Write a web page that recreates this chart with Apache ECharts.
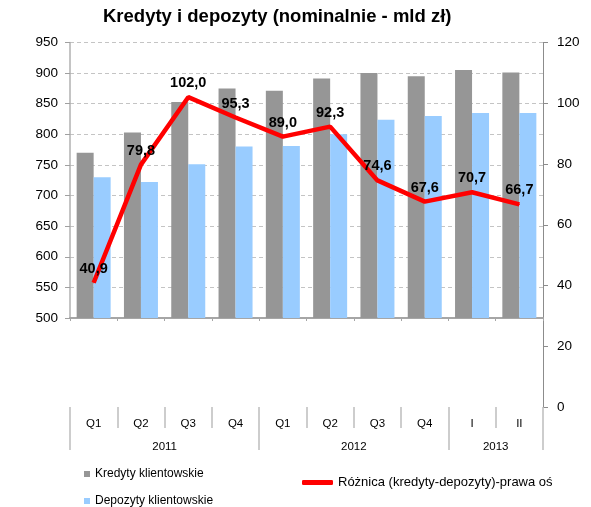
<!DOCTYPE html>
<html>
<head>
<meta charset="utf-8">
<script src="https://cdn.jsdelivr.net/npm/echarts@6/dist/echarts.min.js"></script>
<style>
html,body{margin:0;padding:0;background:#fff;}
#main{width:591px;height:507px;}
</style>
</head>
<body>
<div id="main"></div>
<script>
/*kategorie i dane*/
var quarters=['Q1','Q2','Q3','Q4','Q1','Q2','Q3','Q4','I','II'];
var years=['2011','2012','2013'];
var yearSpans=[4,4,2];
var kredyty=[770,803,853,875,871,891,900,895,905,901];
var depozyty=[730,722,751,780,781,800,824,830,835,835];
var roznica=[40.9,79.8,102.0,95.3,89.0,92.3,74.6,67.6,70.7,66.7];

/*granice i srodki lat na osi*/
var yearBounds=[0],yearMids=[];
for(var i=0;i<yearSpans.length;i++){
	yearMids.push(yearBounds[i]+yearSpans[i]/2);
	yearBounds.push(yearBounds[i]+yearSpans[i]);
}

var FONT='"Liberation Sans", Arial, sans-serif';
var chart=echarts.init(document.getElementById('main'));
var option={
	animation:false,
	textStyle:{fontFamily:FONT},
	title:{
		text:'Kredyty i depozyty (nominalnie - mld zł)',
		left:103,top:7,padding:0,
		textStyle:{fontFamily:FONT,fontSize:18.5,fontWeight:'bold',color:'#000'}
	},
	legend:[
		{data:['Kredyty klientowskie'],left:84,top:468,padding:0,icon:'rect',itemWidth:6,itemHeight:6,
			textStyle:{fontFamily:FONT,fontSize:12,color:'#000'}},
		{data:['Depozyty klientowskie'],left:84,top:495,padding:0,icon:'rect',itemWidth:6,itemHeight:6,
			textStyle:{fontFamily:FONT,fontSize:12,color:'#000'}},
		{data:['Różnica (kredyty-depozyty)-prawa oś'],left:302,top:476,padding:0,icon:'roundRect',itemWidth:31,itemHeight:5,
			textStyle:{fontFamily:FONT,fontSize:13,color:'#000'}}
	],
	grid:[
		{left:70,right:48,top:42.5,bottom:189},
		{left:70,right:48,top:42.5,bottom:100}
	],
	xAxis:[
		{gridIndex:0,type:'category',data:quarters,position:'bottom',
			axisLine:{lineStyle:{color:'#A6A6A6',width:2}},
			axisTick:{show:true,length:3,lineStyle:{color:'#A6A6A6'}},
			axisLabel:{show:false},splitLine:{show:false}},
		{gridIndex:1,type:'category',data:quarters,position:'bottom',
			axisLine:{show:false},
			axisTick:{show:true,interval:0,length:21,lineStyle:{color:'#BDBDBD',width:1.5}},
			axisLabel:{interval:0,margin:11,fontSize:11.5,color:'#000',fontFamily:FONT},
			splitLine:{show:false}},
		{gridIndex:1,type:'value',min:0,max:quarters.length,position:'bottom',
			axisLine:{show:false,onZero:false},splitLine:{show:false},
			axisTick:{show:true,customValues:yearBounds,length:43,lineStyle:{color:'#BDBDBD',width:1.5}},
			axisLabel:{customValues:yearMids,margin:34,fontSize:11.5,color:'#000',fontFamily:FONT,
				formatter:function(v){return years[yearMids.indexOf(v)];}}}
	],
	yAxis:[
		{gridIndex:0,type:'value',min:500,max:950,interval:50,position:'left',
			axisLine:{show:true,lineStyle:{color:'#B0B0B0',width:1.5}},
			axisTick:{show:true,length:5,lineStyle:{color:'#A0A0A0'}},
			axisLabel:{margin:12,fontSize:13.5,color:'#000',fontFamily:FONT},
			splitLine:{show:true,lineStyle:{color:'#C4C4C4',type:[4,3]}}},
		{gridIndex:1,type:'value',min:0,max:120,interval:20,position:'right',
			axisLine:{show:true,onZero:false,lineStyle:{color:'#8C8C8C',width:1}},
			axisTick:{show:true,length:5,lineStyle:{color:'#8C8C8C'}},
			axisLabel:{margin:14,fontSize:13.5,color:'#000',fontFamily:FONT},
			splitLine:{show:false}}
	],
	series:[
		{name:'Kredyty klientowskie',type:'bar',xAxisIndex:0,yAxisIndex:0,data:kredyty,
			barWidth:17,barGap:'0%',itemStyle:{color:'#969696'}},
		{name:'Depozyty klientowskie',type:'bar',xAxisIndex:0,yAxisIndex:0,data:depozyty,
			barWidth:17,barGap:'0%',itemStyle:{color:'#99CCFF'}},
		{name:'Różnica (kredyty-depozyty)-prawa oś',type:'line',xAxisIndex:1,yAxisIndex:1,data:roznica,
			symbol:'circle',symbolSize:1,z:5,
			lineStyle:{color:'#FF0000',width:4.5},itemStyle:{color:'#FF0000'},
			label:{show:true,position:'top',distance:6,fontFamily:FONT,fontSize:14.5,fontWeight:'bold',color:'#000',
				formatter:function(p){return p.value.toFixed(1).replace('.',',');}}}
	]
};
chart.setOption(option);
</script>
</body>
</html>
